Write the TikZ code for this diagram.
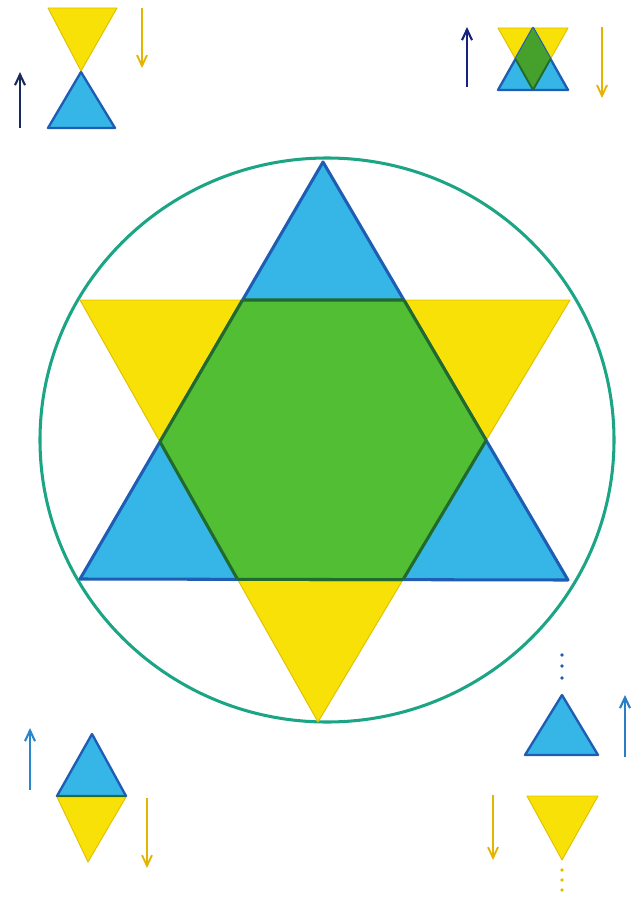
\documentclass[tikz,border=0pt]{standalone}
\usetikzlibrary{arrows.meta}
\definecolor{skyfill}{HTML}{35B6E6}
\definecolor{skyedge}{HTML}{1F5CB4}
\definecolor{sunfill}{HTML}{F8E106}
\definecolor{sunedge}{HTML}{E2C000}
\definecolor{leaffill}{HTML}{52BE34}
\definecolor{leafedge}{HTML}{1F6A2C}
\definecolor{ringteal}{HTML}{1CA584}
\definecolor{navyarrow}{HTML}{1B2A5C}
\definecolor{bluearrow}{HTML}{2A86CC}
\definecolor{goldarrow}{HTML}{E3B400}
\begin{document}
\begin{tikzpicture}[x=0.03cm, y=-0.03cm,
    upfill/.style={fill=skyfill, draw=skyedge, line width=2.6pt, line join=round},
    downfill/.style={fill=sunfill, draw=sunedge, line width=0.8pt, line join=round},
    blendfill/.style={fill=leaffill},
    blendedge/.style={draw=leafedge, line width=2.6pt, line join=round},
    ring/.style={draw=ringteal, line width=2.6pt},
    risearr/.style={-{Straight Barb[length=3.2mm, width=3mm]}, line width=1.8pt},
    fallarr/.style={-{Straight Barb[length=3.2mm, width=3mm]}, line width=1.6pt, draw=goldarrow},
    dot/.style={circle, inner sep=0pt, minimum size=3.2pt}
]
\useasboundingbox (0,0) rectangle (630,898);

% main star
\coordinate (apexU) at (323,162);
\coordinate (leftU) at (80,579);
\coordinate (rightU) at (568,580);
\coordinate (leftD) at (80,300);
\coordinate (rightD) at (570,300);
\coordinate (apexD) at (318,722);
\draw[ring] (327,440) ellipse [x radius=287, y radius=282];
\draw[downfill] (leftD) -- (rightD) -- (apexD) -- cycle;
\draw[upfill] (apexU) -- (leftU) -- (rightU) -- cycle;
\begin{scope}
  \clip (apexU) -- (leftU) -- (rightU) -- cycle;
  \fill[blendfill] (leftD) -- (rightD) -- (apexD) -- cycle;
  \draw[blendedge] (leftD) -- (rightD) -- (apexD) -- cycle;
\end{scope}
\begin{scope}
  \clip (leftD) -- (rightD) -- (apexD) -- cycle;
  \draw[blendedge] (apexU) -- (leftU) -- (rightU) -- cycle;
\end{scope}

% top left: apart
\draw[downfill] (48,8) -- (117,8) -- (81,71) -- cycle;
\draw[upfill, line width=2pt] (81,72) -- (48,128) -- (115,128) -- cycle;
\draw[risearr, draw=navyarrow] (20,128) -- (20,72);
\draw[fallarr] (142,8) -- (142,68);

% top right: overlapping
\draw[downfill] (498,28) -- (568,28) -- (533,90) -- cycle;
\draw[upfill, line width=2pt] (533,28) -- (498,90) -- (568,90) -- cycle;
\begin{scope}
  \clip (533,28) -- (498,90) -- (568,90) -- cycle;
  \fill[blendfill, fill=leaffill!85!black] (498,28) -- (568,28) -- (533,90) -- cycle;
  \draw[blendedge, line width=1.6pt] (498,28) -- (568,28) -- (533,90) -- cycle;
\end{scope}
\draw[risearr, draw=navyarrow!80!blue] (467,87) -- (467,27);
\draw[fallarr] (602,27) -- (602,98);

% bottom left: touching bases
\draw[upfill, line width=2pt] (92,734) -- (57,796) -- (126,796) -- cycle;
\draw[downfill] (57,797) -- (126,797) -- (88,862) -- cycle;
\draw[leafedge, line width=1.4pt] (57,796.5) -- (126,796.5);
\draw[risearr, draw=bluearrow] (30,790) -- (30,728);
\draw[fallarr] (147,798) -- (147,868);

% bottom right: far apart
\draw[upfill, line width=2pt] (562,695) -- (525,755) -- (598,755) -- cycle;
\draw[downfill] (527,796) -- (598,796) -- (562,860) -- cycle;
\foreach \y in {655,666,678}
  \node[dot, fill=skyedge] at (562,\y) {};
\foreach \y in {870,880,890}
  \node[dot, fill=sunedge] at (562,\y) {};
\draw[risearr, draw=bluearrow!80!skyedge] (625,757) -- (625,695);
\draw[fallarr] (493,795) -- (493,860);
\end{tikzpicture}
\end{document}
